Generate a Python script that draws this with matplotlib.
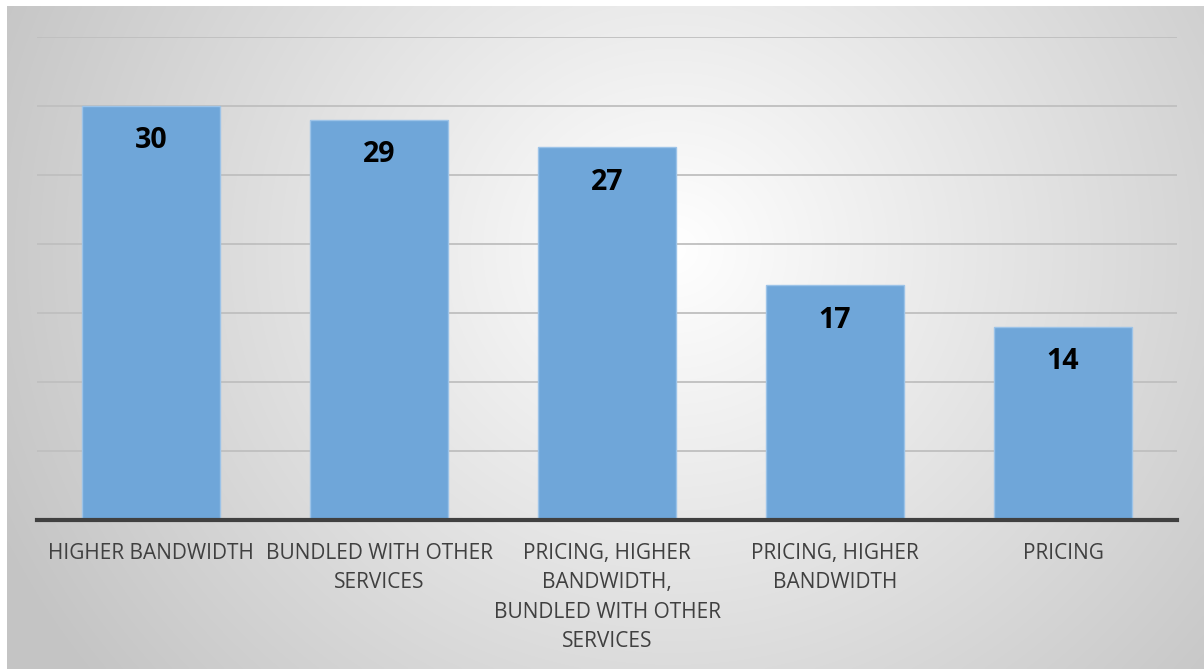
import numpy as np
import matplotlib
matplotlib.use("Agg")
import matplotlib.pyplot as plt

categories = ["HIGHER BANDWIDTH", "BUNDLED WITH OTHER\nSERVICES",
              "PRICING, HIGHER\nBANDWIDTH,\nBUNDLED WITH OTHER\nSERVICES",
              "PRICING, HIGHER\nBANDWIDTH", "PRICING"]
values = [30, 29, 27, 17, 14]

W, H = 1204, 669
fig = plt.figure(figsize=(W / 100, H / 100), dpi=100)
fig.patch.set_facecolor("white")

# radial gradient background
bg = fig.add_axes([7 / W, 0, 1 - 7 / W, 1 - 6 / H], zorder=0)
yy, xx = np.mgrid[0:300, 0:540]
cx, cy = 300, 110
r = np.sqrt(((xx - cx) / 540) ** 2 + ((yy - cy) / 300) ** 2 * 0.35)
r = np.clip(r / 0.62, 0, 1)
val = 1.0 - 0.23 * r
img = np.dstack([val, val, val])
bg.imshow(img, aspect="auto", extent=[0, 1, 0, 1], origin="upper", interpolation="bilinear")
bg.set_axis_off()

ax = fig.add_axes([37 / W, 1 - 520 / H, (1177 - 37) / W, (520 - 37) / H], zorder=1)
ax.set_facecolor("none")
x = np.arange(len(categories))
bars = ax.bar(x, values, width=0.605, color="#6fa6d9", edgecolor="#9cc3e8", linewidth=1.0, zorder=2)
ax.set_xlim(-0.5, len(categories) - 0.5)
ax.set_ylim(0, 35)
ax.set_yticks(np.arange(0, 36, 5))
ax.yaxis.grid(True, color="#bfbfbf", linewidth=1.3, zorder=0)
ax.set_axisbelow(True)
ax.tick_params(axis="y", left=False, labelleft=False)
ax.tick_params(axis="x", bottom=False, pad=13)
ax.set_xticks(x)
ax.set_xticklabels(categories, fontfamily="Open Sans", fontsize=15, color="#404040",
                   linespacing=1.53, va="top")
for s in ["top", "right", "left"]:
    ax.spines[s].set_visible(False)
ax.spines["bottom"].set_color("#404040")
ax.spines["bottom"].set_linewidth(3)
ax.spines["bottom"].set_zorder(3)

for xi, v in zip(x, values):
    ax.annotate(str(v), (xi, v), xytext=(0, -25), textcoords="offset points",
                ha="center", va="center", fontsize=20.5, fontweight="bold",
                fontfamily="Open Sans", color="black", zorder=4)

fig.savefig("out.png", dpi=100)
